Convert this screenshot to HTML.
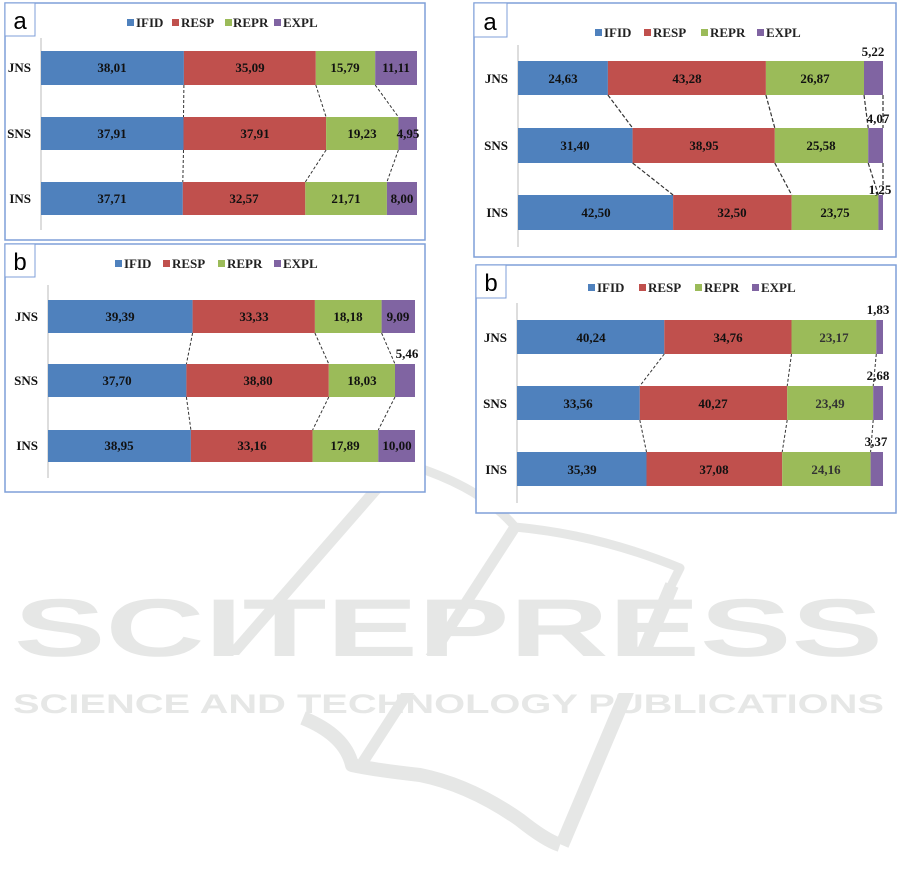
<!DOCTYPE html>
<html><head><meta charset="utf-8"><style>
html,body{margin:0;padding:0;background:#fff;}
svg{display:block;}
.v{font-family:"Liberation Serif",serif;font-weight:bold;font-size:13px;fill:#111;text-anchor:middle;}
.c{font-family:"Liberation Serif",serif;font-weight:bold;font-size:13px;fill:#111;text-anchor:end;}
.lg{font-family:"Liberation Serif",serif;font-weight:bold;font-size:13px;fill:#222;}
.pl{font-family:"Liberation Sans",sans-serif;font-size:24px;fill:#000;text-anchor:middle;}
.wm{font-family:"Liberation Sans",sans-serif;font-weight:bold;fill:#e6e7e6;}
</style></head><body>
<svg width="901" height="887" viewBox="0 0 901 887" xmlns="http://www.w3.org/2000/svg">
<!-- watermark -->
<g fill="none" stroke="#e6e7e6" stroke-linecap="butt" stroke-linejoin="round">
<path d="M400,462 L216,673 Q228,685 260,687" stroke-width="11"/>
<path d="M400,462 Q480,485 515,527 Q600,535 680,568 L668,592" stroke-width="9"/>
<path d="M515,527 L363,762" stroke-width="11"/>
<path d="M672,585 L562,845" stroke-width="14"/>
<path d="M303,718 Q345,735 352,765 Q375,770 420,775 Q470,785 520,820 Q545,840 560,845" stroke-width="14"/>
</g>
<rect x="0" y="655" width="901" height="38" fill="#fff"/>
<text class="wm" x="14" y="656" font-size="82" textLength="869" lengthAdjust="spacingAndGlyphs">SCITEPRESS</text>
<text class="wm" x="13" y="713" font-size="27" textLength="871" lengthAdjust="spacingAndGlyphs">SCIENCE AND TECHNOLOGY PUBLICATIONS</text>

<!-- Panel TL-a -->
<rect x="5" y="3" width="420" height="237" fill="#fff" stroke="#7f9fd8" stroke-width="1.5"/>
<rect x="5" y="3" width="30" height="33" fill="#fff" stroke="#7f9fd8" stroke-width="1"/>
<text class="pl" x="20" y="29">a</text>
<rect x="127" y="19" width="7" height="7" fill="#4F81BD"/><text class="lg" x="136" y="27">IFID</text>
<rect x="172" y="19" width="7" height="7" fill="#C0504D"/><text class="lg" x="181" y="27">RESP</text>
<rect x="225" y="19" width="7" height="7" fill="#9BBB59"/><text class="lg" x="233" y="27">REPR</text>
<rect x="274" y="19" width="7" height="7" fill="#8064A2"/><text class="lg" x="283" y="27">EXPL</text>
<line x1="41" y1="38" x2="41" y2="230" stroke="#bbb"/>
<g>
<rect x="41" y="51" width="142.9" height="34" fill="#4F81BD"/><rect x="183.9" y="51" width="131.9" height="34" fill="#C0504D"/><rect x="315.8" y="51" width="59.4" height="34" fill="#9BBB59"/><rect x="375.2" y="51" width="41.8" height="34" fill="#8064A2"/>
<rect x="41" y="117" width="142.5" height="33" fill="#4F81BD"/><rect x="183.5" y="117" width="142.6" height="33" fill="#C0504D"/><rect x="326.1" y="117" width="72.3" height="33" fill="#9BBB59"/><rect x="398.4" y="117" width="18.6" height="33" fill="#8064A2"/>
<rect x="41" y="182" width="141.8" height="33" fill="#4F81BD"/><rect x="182.8" y="182" width="122.5" height="33" fill="#C0504D"/><rect x="305.3" y="182" width="81.6" height="33" fill="#9BBB59"/><rect x="386.9" y="182" width="30.1" height="33" fill="#8064A2"/>
</g>
<g stroke="#333" stroke-dasharray="3,2" fill="none">
<path d="M183.9,85 L183.5,117 M315.8,85 L326.1,117 M375.2,85 L398.4,117"/>
<path d="M183.5,150 L182.8,182 M326.1,150 L305.3,182 M398.4,150 L386.9,182"/>
</g>
<text class="c" x="31" y="72">JNS</text><text class="c" x="31" y="138">SNS</text><text class="c" x="31" y="203">INS</text>
<text class="v" x="112" y="72">38,01</text><text class="v" x="250" y="72">35,09</text><text class="v" x="345" y="72">15,79</text><text class="v" x="396" y="72">11,11</text>
<text class="v" x="112" y="138">37,91</text><text class="v" x="255" y="138">37,91</text><text class="v" x="362" y="138">19,23</text><text class="v" x="408" y="138">4,95</text>
<text class="v" x="112" y="203">37,71</text><text class="v" x="244" y="203">32,57</text><text class="v" x="346" y="203">21,71</text><text class="v" x="402" y="203">8,00</text>

<!-- Panel TL-b -->
<rect x="5" y="244" width="420" height="248" fill="#fff" stroke="#7f9fd8" stroke-width="1.5"/>
<rect x="5" y="244" width="30" height="33" fill="#fff" stroke="#7f9fd8" stroke-width="1"/>
<text class="pl" x="20" y="270">b</text>
<rect x="115" y="260" width="7" height="7" fill="#4F81BD"/><text class="lg" x="124" y="268">IFID</text>
<rect x="163" y="260" width="7" height="7" fill="#C0504D"/><text class="lg" x="172" y="268">RESP</text>
<rect x="218" y="260" width="7" height="7" fill="#9BBB59"/><text class="lg" x="227" y="268">REPR</text>
<rect x="274" y="260" width="7" height="7" fill="#8064A2"/><text class="lg" x="283" y="268">EXPL</text>
<line x1="48" y1="285" x2="48" y2="478" stroke="#bbb"/>
<rect x="48" y="300" width="144.6" height="33" fill="#4F81BD"/><rect x="192.6" y="300" width="122.3" height="33" fill="#C0504D"/><rect x="314.9" y="300" width="66.7" height="33" fill="#9BBB59"/><rect x="381.6" y="300" width="33.4" height="33" fill="#8064A2"/>
<rect x="48" y="364" width="138.4" height="33" fill="#4F81BD"/><rect x="186.4" y="364" width="142.4" height="33" fill="#C0504D"/><rect x="328.8" y="364" width="66.2" height="33" fill="#9BBB59"/><rect x="395" y="364" width="20" height="33" fill="#8064A2"/>
<rect x="48" y="430" width="142.9" height="32" fill="#4F81BD"/><rect x="190.9" y="430" width="121.7" height="32" fill="#C0504D"/><rect x="312.6" y="430" width="65.7" height="32" fill="#9BBB59"/><rect x="378.3" y="430" width="36.7" height="32" fill="#8064A2"/>
<g stroke="#333" stroke-dasharray="3,2" fill="none">
<path d="M192.6,333 L186.4,364 M314.9,333 L328.8,364 M381.6,333 L395,364"/>
<path d="M186.4,397 L190.9,430 M328.8,397 L312.6,430 M395,397 L378.3,430"/>
</g>
<text class="c" x="38" y="321">JNS</text><text class="c" x="38" y="385">SNS</text><text class="c" x="38" y="450">INS</text>
<text class="v" x="120" y="321">39,39</text><text class="v" x="254" y="321">33,33</text><text class="v" x="348" y="321">18,18</text><text class="v" x="398" y="321">9,09</text>
<text class="v" x="117" y="385">37,70</text><text class="v" x="258" y="385">38,80</text><text class="v" x="362" y="385">18,03</text><text class="v" x="407" y="358">5,46</text>
<text class="v" x="119" y="450">38,95</text><text class="v" x="252" y="450">33,16</text><text class="v" x="345" y="450">17,89</text><text class="v" x="397" y="450">10,00</text>

<!-- Panel R-a -->
<rect x="474" y="3" width="422" height="254" fill="#fff" stroke="#7f9fd8" stroke-width="1.5"/>
<rect x="474" y="3" width="33" height="34" fill="#fff" stroke="#7f9fd8" stroke-width="1"/>
<text class="pl" x="490" y="30">a</text>
<rect x="595" y="29" width="7" height="7" fill="#4F81BD"/><text class="lg" x="604" y="37">IFID</text>
<rect x="644" y="29" width="7" height="7" fill="#C0504D"/><text class="lg" x="653" y="37">RESP</text>
<rect x="701" y="29" width="7" height="7" fill="#9BBB59"/><text class="lg" x="710" y="37">REPR</text>
<rect x="757" y="29" width="7" height="7" fill="#8064A2"/><text class="lg" x="766" y="37">EXPL</text>
<line x1="518" y1="45" x2="518" y2="247" stroke="#bbb"/>
<rect x="518" y="61" width="89.9" height="34" fill="#4F81BD"/><rect x="607.9" y="61" width="158" height="34" fill="#C0504D"/><rect x="765.9" y="61" width="98.1" height="34" fill="#9BBB59"/><rect x="864" y="61" width="19" height="34" fill="#8064A2"/>
<rect x="518" y="128" width="114.6" height="35" fill="#4F81BD"/><rect x="632.6" y="128" width="142.2" height="35" fill="#C0504D"/><rect x="774.8" y="128" width="93.4" height="35" fill="#9BBB59"/><rect x="868.2" y="128" width="14.8" height="35" fill="#8064A2"/>
<rect x="518" y="195" width="155.1" height="35" fill="#4F81BD"/><rect x="673.1" y="195" width="118.6" height="35" fill="#C0504D"/><rect x="791.7" y="195" width="86.7" height="35" fill="#9BBB59"/><rect x="878.4" y="195" width="4.6" height="35" fill="#8064A2"/>
<g stroke="#333" stroke-dasharray="4,2" fill="none" stroke-width="1.2">
<path d="M607.9,95 L632.6,128 M765.9,95 L774.8,128 M864,95 L868.2,128 M883,95 L883,128"/>
<path d="M632.6,163 L673.1,195 M774.8,163 L791.7,195 M868.2,163 L878.4,195 M883,163 L883,195"/>
</g>
<text class="c" x="508" y="83">JNS</text><text class="c" x="508" y="150">SNS</text><text class="c" x="508" y="217">INS</text>
<text class="v" x="563" y="83">24,63</text><text class="v" x="687" y="83">43,28</text><text class="v" x="815" y="83">26,87</text><text class="v" x="873" y="56">5,22</text>
<text class="v" x="575" y="150">31,40</text><text class="v" x="704" y="150">38,95</text><text class="v" x="821" y="150">25,58</text><text class="v" x="878" y="123">4,07</text>
<text class="v" x="596" y="217">42,50</text><text class="v" x="732" y="217">32,50</text><text class="v" x="835" y="217">23,75</text><text class="v" x="880" y="194">1,25</text>

<!-- Panel R-b -->
<rect x="476" y="265" width="420" height="248" fill="#fff" stroke="#7f9fd8" stroke-width="1.5"/>
<rect x="476" y="265" width="30" height="33" fill="#fff" stroke="#7f9fd8" stroke-width="1"/>
<text class="pl" x="491" y="291">b</text>
<rect x="588" y="284" width="7" height="7" fill="#4F81BD"/><text class="lg" x="597" y="292">IFID</text>
<rect x="639" y="284" width="7" height="7" fill="#C0504D"/><text class="lg" x="648" y="292">RESP</text>
<rect x="695" y="284" width="7" height="7" fill="#9BBB59"/><text class="lg" x="704" y="292">REPR</text>
<rect x="752" y="284" width="7" height="7" fill="#8064A2"/><text class="lg" x="761" y="292">EXPL</text>
<line x1="517" y1="303" x2="517" y2="503" stroke="#bbb"/>
<rect x="517" y="320" width="147.3" height="34" fill="#4F81BD"/><rect x="664.3" y="320" width="127.2" height="34" fill="#C0504D"/><rect x="791.5" y="320" width="84.8" height="34" fill="#9BBB59"/><rect x="876.3" y="320" width="6.7" height="34" fill="#8064A2"/>
<rect x="517" y="386" width="122.8" height="34" fill="#4F81BD"/><rect x="639.8" y="386" width="147.4" height="34" fill="#C0504D"/><rect x="787.2" y="386" width="86" height="34" fill="#9BBB59"/><rect x="873.2" y="386" width="9.8" height="34" fill="#8064A2"/>
<rect x="517" y="452" width="129.5" height="34" fill="#4F81BD"/><rect x="646.5" y="452" width="135.7" height="34" fill="#C0504D"/><rect x="782.2" y="452" width="88.4" height="34" fill="#9BBB59"/><rect x="870.6" y="452" width="12.4" height="34" fill="#8064A2"/>
<g stroke="#333" stroke-dasharray="3,2" fill="none">
<path d="M664.3,354 L639.8,386 M791.5,354 L787.2,386 M876.3,354 L873.2,386"/>
<path d="M639.8,420 L646.5,452 M787.2,420 L782.2,452 M873.2,420 L870.6,452"/>
</g>
<text class="c" x="507" y="342">JNS</text><text class="c" x="507" y="408">SNS</text><text class="c" x="507" y="474">INS</text>
<text class="v" x="591" y="342">40,24</text><text class="v" x="728" y="342">34,76</text><text class="v" x="834" y="342" style="fill:#333">23,17</text><text class="v" x="878" y="314">1,83</text>
<text class="v" x="578" y="408">33,56</text><text class="v" x="713" y="408">40,27</text><text class="v" x="830" y="408" style="fill:#333">23,49</text><text class="v" x="878" y="380">2,68</text>
<text class="v" x="582" y="474">35,39</text><text class="v" x="714" y="474">37,08</text><text class="v" x="826" y="474" style="fill:#333">24,16</text><text class="v" x="876" y="446">3,37</text>
</svg>
</body></html>
